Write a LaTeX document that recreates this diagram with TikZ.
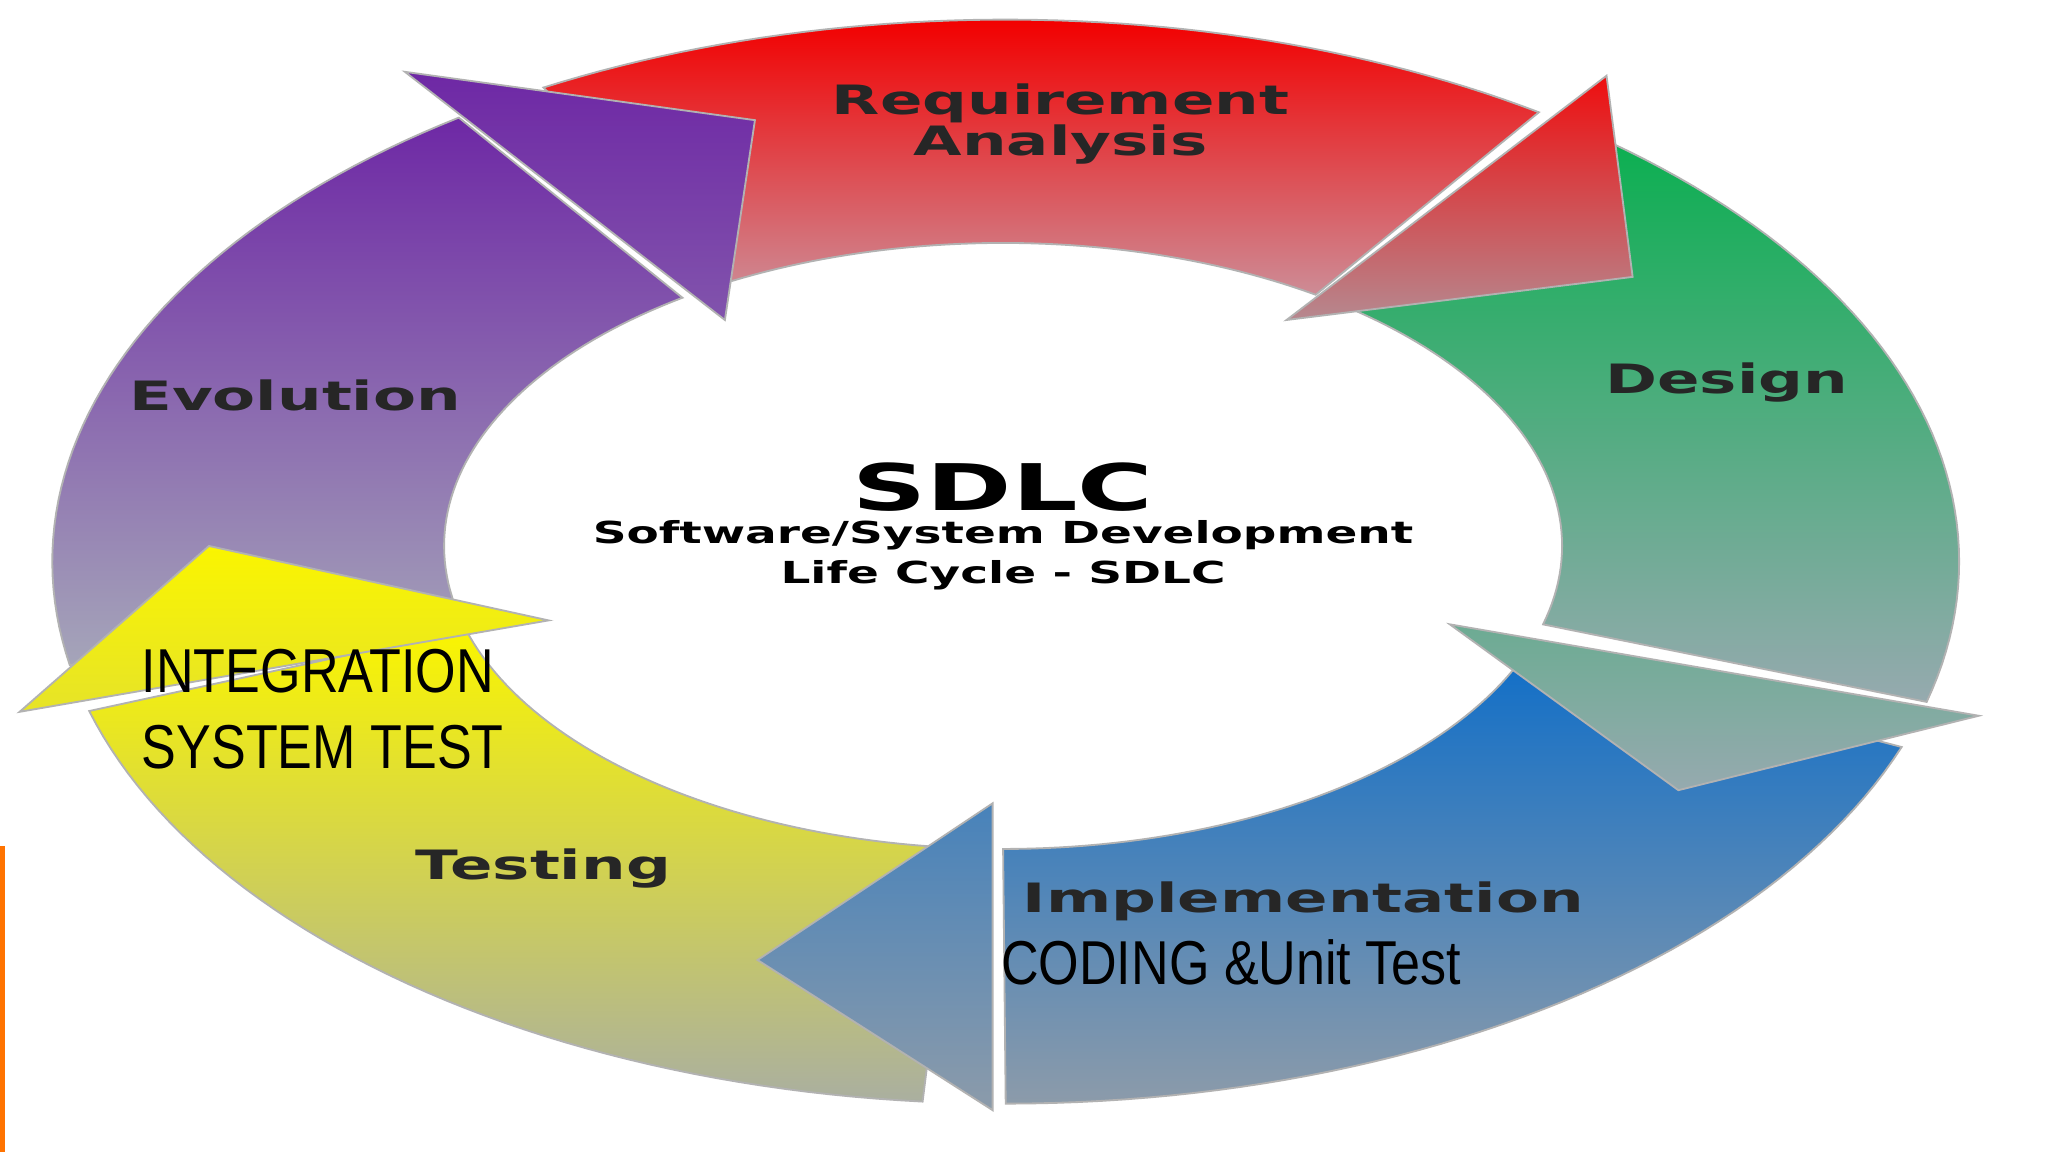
\documentclass[tikz,border=0pt]{standalone}
\usepackage{fontspec}
\setmainfont{DejaVu Sans}
\newfontfamily\nar{Liberation Sans}
\begin{document}
\begin{tikzpicture}[x=0.01cm,y=-0.01cm,
  lbl/.style={font=\fontsize{8.8}{10}\selectfont\bfseries, xscale=1.55, text=black!85, align=center, inner sep=0pt},
  nlbl/.style={font=\nar\fontsize{13.5}{16.5}\selectfont, xscale=0.84, text=black, align=left, inner sep=0pt},
  seg/.style={draw=gray!60, line width=0.4pt}]
\useasboundingbox (0,0) rectangle (1568,882);
\fill[white] (0,0) rectangle (1568,882);
\fill[orange!90!red] (0,648) rectangle (4,882);
\def\body#1#2{plot[domain=#1:#2,samples=50] ({770+730*cos(\x)},{430+415*sin(\x)}) -- plot[domain=#2:#1,samples=50] ({768+428*cos(\x)},{418+232*sin(\x)}) -- cycle}
\colorlet{rT}{red!95!black}
\definecolor{rB}{RGB}{205,140,150}
\definecolor{gT}{RGB}{10,175,80}
\definecolor{gB}{RGB}{150,170,175}
\definecolor{bT}{RGB}{15,110,200}
\definecolor{bB}{RGB}{140,155,170}
\definecolor{yT}{RGB}{250,245,0}
\definecolor{yB}{RGB}{170,175,160}
\definecolor{pT}{RGB}{110,40,165}
\definecolor{pB}{RGB}{165,165,185}
% bodies
\shade[seg, top color=rT, bottom color=rB] \body{-119}{-56};
\shade[seg, top color=gT, bottom color=gB] \body{-52}{15};
\shade[seg, top color=bT, bottom color=bB] \body{20}{90};
\shade[seg, top color=yT, bottom color=yB] \body{95}{164};
\shade[seg, top color=pT, bottom color=pB] \body{169}{235};
% heads
\shade[seg, top color=gB!70!gT, bottom color=gB] (1110,478) -- (1515,548) -- (1285,605) -- cycle;
\shade[seg, top color=bT!55!bB, bottom color=bB] (760,615) -- (760,850) -- (580,735) -- cycle;
\shade[seg, top color=yT, bottom color=yT!75!yB] (420,475) -- (15,545) -- (160,418) -- cycle;
\shade[seg, top color=pT, bottom color=pT!65!pB] (555,245) -- (310,55) -- (578,92) -- cycle;
\shade[seg, top color=rT!90!rB, bottom color=rB!70!gray] (1230,58) -- (1250,212) -- (985,245) -- cycle;
\node[lbl] (req) at (812,95) {Requirement\\[-1pt]Analysis};
\node[lbl] (des) at (1322,293) {Design};
\node[lbl] (evo) at (226,303) {Evolution};
\node[lbl] (tst) at (416,665) {Testing};
\node[lbl] (imp) at (998,690) {Implementation};
\node[font=\fontsize{14}{16}\selectfont\bfseries, xscale=1.6, inner sep=0pt] (sdlc) at (768,373) {SDLC};
\node[font=\fontsize{6.6}{8.6}\selectfont\bfseries, xscale=1.55, align=center, inner sep=0pt] (sub) at (768,425) {Software/System Development\\Life Cycle - SDLC};
\node[nlbl, anchor=west] (int) at (108,543) {INTEGRATION\\SYSTEM TEST};
\node[nlbl, anchor=west] (cod) at (766,737) {CODING \&Unit Test};
\end{tikzpicture}
\end{document}
